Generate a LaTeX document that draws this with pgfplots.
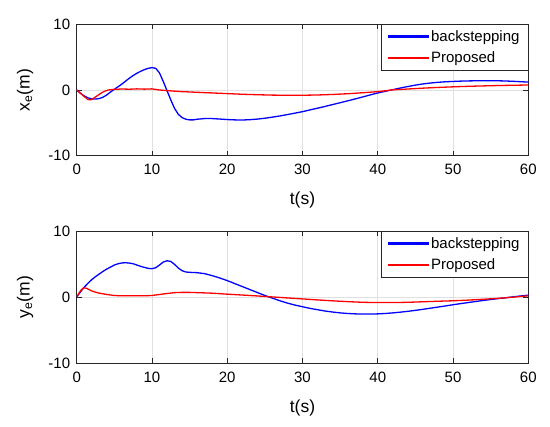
\documentclass[border=0pt]{standalone}
\usepackage{fontspec}
\setmainfont{Liberation Sans}
\usepackage{pgfplots}
\pgfplotsset{compat=1.18}
\definecolor{axgray}{rgb}{0.15,0.15,0.15}
\definecolor{gridgray}{rgb}{0.88,0.88,0.88}
\pgfplotsset{
  myaxis/.style={
    scale only axis,
    width=451.6pt,
    xmin=0, xmax=60, ymin=-10, ymax=10,
    xtick={0,10,20,30,40,50,60},
    xticklabels={0,10,20,30,40,50,60},
    ytick={-10,0,10},
    yticklabels={-10,0,10},
    tick align=inside,
    major tick length=5pt,
    axis line style={axgray, line width=0.6pt},
    tick style={axgray, line width=0.6pt},
    grid=major,
    major grid style={gridgray, line width=0.6pt},
    tick label style={font=\fontsize{15}{18}\selectfont},
    xticklabel style={yshift=-5pt},
    yticklabel style={xshift=-3pt},
    label style={font=\fontsize{17.5}{21}\selectfont},
    xlabel style={at={(axis description cs:0.5,-0.337)}, anchor=center},
    ylabel style={at={(axis description cs:-0.1145,0.5)}, anchor=center},
    legend style={at={(1,1)}, anchor=north east, draw=axgray, line width=0.6pt,
      fill=white, font=\fontsize{15}{18}\selectfont,
      inner xsep=6.5pt, inner ysep=4pt, row sep=5pt},
    legend cell align=left,
    xlabel={t(s)},
  },
  bimg/.style={legend image code/.code={\fill[blue] (0pt,-0.65pt) rectangle (40pt,0.65pt);}},
  rimg/.style={legend image code/.code={\fill[red] (0pt,-0.65pt) rectangle (40pt,0.65pt);}},
}
\begin{document}
\begin{tikzpicture}[line width=1.3pt]
\path (0,0) rectangle (550pt,427pt);
\begin{axis}[myaxis, at={(76.7pt,271.3pt)}, anchor=south west, height=131.4pt,
  ylabel={x\textsubscript{e}(m)}]
\addplot[blue, line width=1.3pt, bimg] coordinates {
(0,0) (0.5,-0.5) (1,-0.9) (1.5,-1.2) (2,-1.35) (2.5,-1.38) (3,-1.3) (3.5,-1.1) (4,-0.75) (4.5,-0.3) (5,0.1) (5.5,0.5) (6,0.9) (6.5,1.35) (7,1.8) (7.5,2.2) (8,2.55) (8.5,2.85) (9,3.1) (9.5,3.3) (10,3.4) (10.5,3.3) (11,2.6) (11.5,1.3) (12,-0.1) (12.5,-1.5) (13,-2.8) (13.5,-3.7) (14,-4.2) (14.5,-4.45) (15,-4.55) (15.5,-4.55) (16,-4.45) (17,-4.35) (18,-4.35) (19,-4.42) (20,-4.5) (21,-4.55) (22,-4.57) (23,-4.52) (24,-4.43) (25,-4.3) (26,-4.13) (27,-3.95) (28,-3.74) (29,-3.52) (30,-3.3) (31,-3.03) (32,-2.77) (33,-2.5) (34,-2.22) (35,-1.94) (36,-1.65) (37,-1.36) (38,-1.06) (39,-0.75) (40,-0.45) (41,-0.2) (42,0.05) (43,0.3) (44,0.53) (45,0.74) (46,0.92) (47,1.06) (48,1.17) (49,1.25) (50,1.3) (51,1.35) (52,1.38) (53,1.4) (54,1.42) (55,1.42) (56,1.4) (57,1.37) (58,1.32) (59,1.26) (60,1.2)
};
\addlegendentry{backstepping}
\addplot[red, line width=1.3pt, rimg] coordinates {
(0,0) (0.5,-0.5) (1,-1.0) (1.5,-1.45) (1.8,-1.5) (2.2,-1.3) (2.7,-0.9) (3.2,-0.5) (3.7,-0.2) (4.2,0.0) (5,0.1) (6,0.15) (7,0.12) (8,0.17) (9,0.13) (10,0.17) (11,0.0) (12,-0.1) (14,-0.25) (16,-0.35) (18,-0.45) (20,-0.55) (22,-0.65) (24,-0.72) (26,-0.78) (28,-0.8) (30,-0.8) (32,-0.76) (34,-0.68) (36,-0.57) (38,-0.42) (40,-0.25) (41,-0.12) (42,0.02) (44,0.15) (46,0.28) (48,0.39) (50,0.48) (52,0.56) (54,0.62) (56,0.68) (58,0.72) (60,0.76)
};
\addlegendentry{Proposed}
\end{axis}
\begin{axis}[myaxis, at={(76.7pt,63.7pt)}, anchor=south west, height=132.3pt,
  ylabel={y\textsubscript{e}(m)}]
\addplot[blue, line width=1.3pt, bimg] coordinates {
(0,0) (0.5,0.8) (1,1.5) (1.5,2.1) (2,2.65) (2.5,3.1) (3,3.5) (3.5,3.9) (4,4.25) (4.5,4.55) (5,4.85) (5.5,5.05) (6,5.17) (6.5,5.2) (7,5.15) (7.5,5.05) (8,4.85) (8.5,4.65) (9,4.5) (9.5,4.35) (10,4.3) (10.5,4.45) (11,4.85) (11.5,5.3) (12,5.5) (12.5,5.4) (13,4.95) (13.5,4.4) (14,4.0) (14.5,3.8) (15,3.75) (16,3.7) (17,3.55) (18,3.25) (19,2.9) (20,2.5) (21,2.05) (22,1.6) (23,1.15) (24,0.7) (25,0.25) (26,-0.15) (27,-0.55) (28,-0.9) (29,-1.2) (30,-1.45) (31,-1.7) (32,-1.9) (33,-2.1) (34,-2.25) (35,-2.38) (36,-2.47) (37,-2.53) (38,-2.56) (39,-2.56) (40,-2.53) (41,-2.47) (42,-2.38) (43,-2.27) (44,-2.14) (45,-2.0) (46,-1.84) (47,-1.67) (48,-1.5) (49,-1.33) (50,-1.15) (51,-0.98) (52,-0.82) (53,-0.66) (54,-0.5) (55,-0.36) (56,-0.22) (57,-0.1) (58,0.05) (59,0.18) (60,0.3)
};
\addlegendentry{backstepping}
\addplot[red, line width=1.3pt, rimg] coordinates {
(0,0) (0.3,0.6) (0.6,1.1) (0.9,1.4) (1.3,1.35) (1.7,1.1) (2.2,0.85) (3,0.6) (4,0.4) (5,0.25) (6,0.2) (7,0.2) (8,0.22) (9,0.2) (10,0.25) (11,0.4) (12,0.55) (13,0.68) (14,0.72) (15,0.72) (16,0.68) (18,0.6) (20,0.45) (22,0.32) (24,0.18) (26,0.03) (28,-0.12) (30,-0.27) (32,-0.42) (34,-0.56) (36,-0.68) (38,-0.78) (40,-0.82) (42,-0.82) (44,-0.78) (46,-0.7) (48,-0.62) (50,-0.55) (52,-0.45) (54,-0.32) (56,-0.18) (58,0.0) (60,0.2)
};
\addlegendentry{Proposed}
\end{axis}
\end{tikzpicture}
\end{document}
